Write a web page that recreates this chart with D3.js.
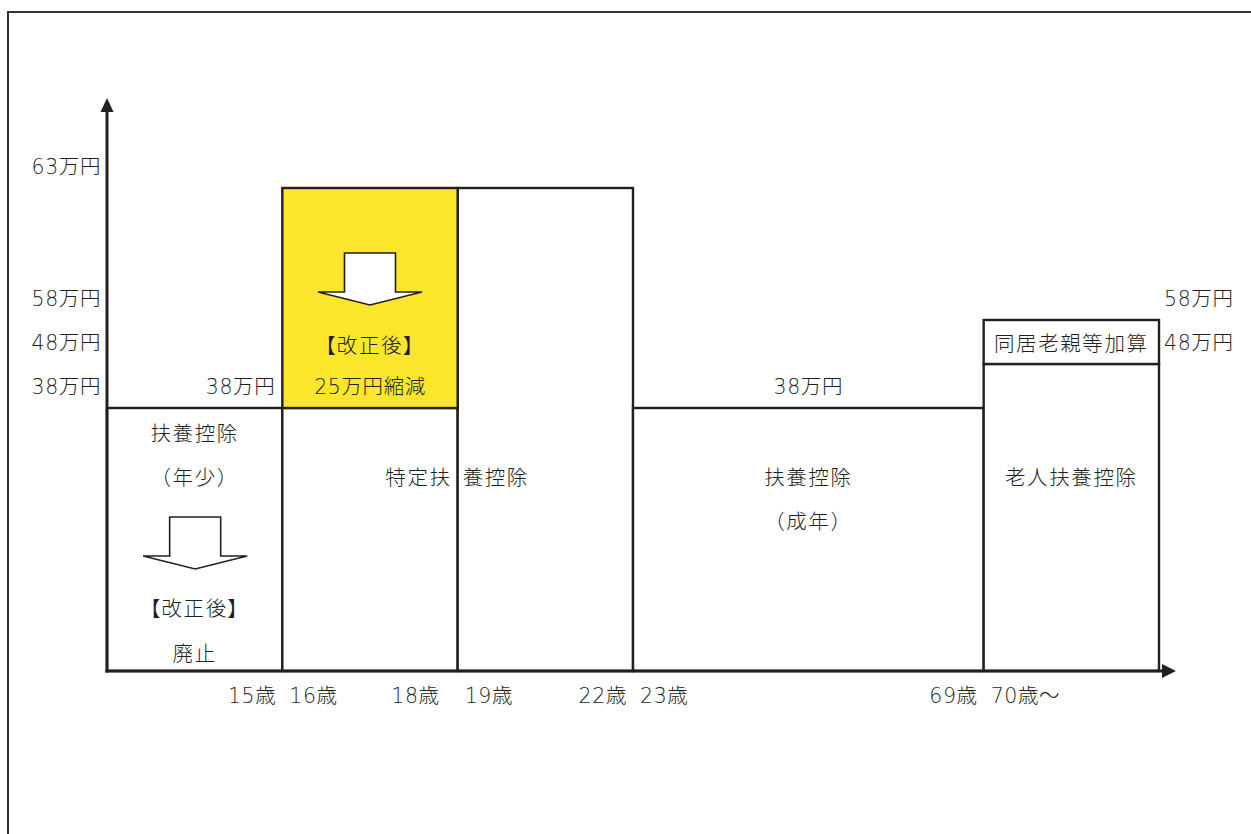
<!DOCTYPE html>
<html><head><meta charset="utf-8">
<script src="https://cdn.jsdelivr.net/npm/d3@7"></script>
<style>
html,body{margin:0;padding:0;background:#fff;}
svg{display:block;}
text{font-family:"Noto Sans CJK JP","Noto Sans",sans-serif;font-size:20.5px;fill:#231f20;letter-spacing:1.6px;font-weight:300;}
text.num{font-family:"DejaVu Sans","Noto Sans CJK JP",sans-serif;letter-spacing:0.6px;}
.palt{font-feature-settings:"palt";}
</style></head>
<body><svg id="c" width="1251" height="834"></svg>
<script>
// ---- data ----
const bands      = ["年少","特定16-18","特定19-22","成年","老人"];
const bandSlots  = [1, 1, 1, 2, 1];           // relative width of each age band
const baseValues = [38, 38, 63, 38, 48];      // 万円: base deduction
const extraValues= [0, 25, 0, 0, 10];         // 万円: upper portion (縮減 / 同居加算)
const ageStartLabels = ["", "16歳", "19歳", "23歳", "70歳～"];
const ageEndLabels   = ["15歳", "18歳", "22歳", "69歳", ""];
const leftTicks      = [63, 58, 48, 38];
const leftTickLabels = ["63万円", "58万円", "48万円", "38万円"];
const rightTicks     = [58, 48];
const rightTickLabels= ["58万円", "48万円"];

// ---- layout ----
const svg = d3.select("#c");
const ink = "#231f20", yellow = "#fbe62b";
const x0 = 107, x1 = 1159, yBase = 671;

// frame
svg.append("rect").attr("x",8).attr("y",12).attr("width",1400).attr("height",1000)
  .attr("fill","none").attr("stroke","#333").attr("stroke-width",2);

const totalSlots = d3.sum(bandSlots);
const x = d3.scaleLinear().domain([0, totalSlots]).range([x0, x1]);
// schematic (non-proportional) vertical scale
const y = d3.scaleLinear().domain([0, 38, 48, 58, 63]).range([yBase, 408, 364, 320, 188]);

const starts = bandSlots.map((s,i)=>d3.sum(bandSlots.slice(0,i)));
const bandData = bands.map((b,i)=>({b, s:starts[i], e:starts[i]+bandSlots[i], base:baseValues[i], extra:extraValues[i]}));

// base boxes
svg.selectAll("rect.base").data(bandData).join("rect").attr("class","base")
  .attr("x",d=>x(d.s)).attr("width",d=>x(d.e)-x(d.s))
  .attr("y",d=>y(d.base)).attr("height",d=>y(0)-y(d.base))
  .attr("fill","#fff").attr("stroke",ink).attr("stroke-width",2.4);
// extra boxes
svg.selectAll("rect.extra").data(bandData.filter(d=>d.extra>0)).join("rect").attr("class","extra")
  .attr("x",d=>x(d.s)).attr("width",d=>x(d.e)-x(d.s))
  .attr("y",d=>y(d.base+d.extra)).attr("height",d=>y(d.base)-y(d.base+d.extra))
  .attr("fill",d=>d.b==="特定16-18"?yellow:"#fff").attr("stroke",ink).attr("stroke-width",2.4);

// axes
svg.append("line").attr("x1",x0).attr("x2",x0).attr("y1",yBase+1.5).attr("y2",110)
  .attr("stroke",ink).attr("stroke-width",3);
svg.append("path").attr("d",`M${x0-6.5},112 L${x0},98 L${x0+6.5},112 Z`).attr("fill",ink);
svg.append("line").attr("x1",x0-1.5).attr("x2",1164).attr("y1",yBase).attr("y2",yBase)
  .attr("stroke",ink).attr("stroke-width",3);
svg.append("path").attr("d",`M1162,${yBase-7} L1176,${yBase} L1162,${yBase+7} Z`).attr("fill",ink);

function txt(t,xx,yy,anchor,cls){
  return svg.append("text").attr("x",xx).attr("y",yy).attr("text-anchor",anchor||"middle")
    .attr("dominant-baseline","central").attr("class",cls||null).text(t);
}
const lblOff = 21;

// y tick labels
leftTicks.forEach((v,i)=>txt(leftTickLabels[i], 101, y(v)-lblOff, "end", "num"));
rightTicks.forEach((v,i)=>txt(rightTickLabels[i], 1164, y(v)-lblOff, "start", "num"));

// x tick labels
bandData.forEach((d,i)=>{
  if(ageEndLabels[i]) txt(ageEndLabels[i], x(d.e)-(i===1?18:6), 696, "end", "num");
  if(ageStartLabels[i]) txt(ageStartLabels[i], x(d.s)+7, 696, "start", "num");
});

// block down-arrow
function downArrow(cx, top, tip){
  const stemH = (tip-top)*0.75, sw=25.5, hw=52;
  const pts = [[cx-sw,top],[cx+sw,top],[cx+sw,top+stemH],[cx+hw,top+stemH],[cx,tip],[cx-hw,top+stemH],[cx-sw,top+stemH]];
  svg.append("path").attr("d",d3.line()(pts)+"Z").attr("fill","#fff").attr("stroke",ink).attr("stroke-width",1.6)
    .attr("stroke-linejoin","miter");
}
const mid = d=>(x(d.s)+x(d.e))/2;
const [bY,bT1,bT2,bA,bO] = bandData;
const lvl38 = y(38);

// 年少
txt("38万円", x(bY.e)-7, lvl38-lblOff, "end", "num");
txt("扶養控除", mid(bY), lvl38+24);
txt("（年少）", mid(bY), lvl38+68);
downArrow(mid(bY)+0.5, 517, 569);
txt("【改正後】", mid(bY), 607, "middle", "palt");
txt("廃止", mid(bY), 652);

// 特定 (yellow)
downArrow(mid(bT1), 253, 305);
txt("【改正後】", mid(bT1), lvl38-64, "middle", "palt");
txt("25万円縮減", mid(bT1), lvl38-lblOff, "middle", "num");
txt("特定扶", x(bT1.e)-6, lvl38+68, "end");
txt("養控除", x(bT2.s)+5, lvl38+68, "start");

// 成年
txt("38万円", mid(bA), lvl38-lblOff, "middle", "num");
txt("扶養控除", mid(bA), lvl38+68);
txt("（成年）", mid(bA), lvl38+112);

// 老人
txt("老人扶養控除", mid(bO), lvl38+68);
txt("同居老親等加算", mid(bO), (y(48)+y(58))/2);
</script></body></html>
